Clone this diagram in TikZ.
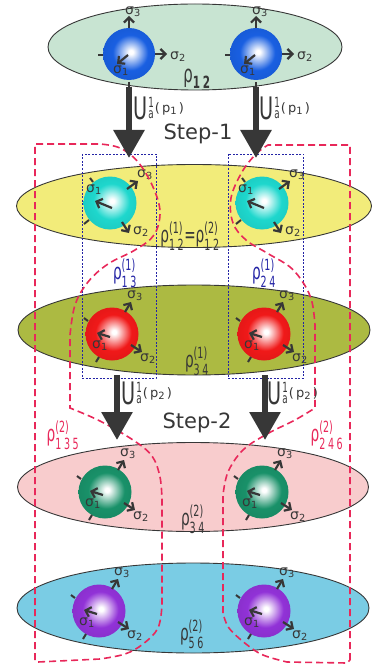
\documentclass[tikz,border=0pt]{standalone}
\usepackage{amsmath}
\usepackage{fontspec}
\setmainfont{DejaVu Sans}
\newfontfamily\narrowfont{DejaVu Sans}[FakeStretch=0.62]
\usetikzlibrary{shapes.geometric,arrows.meta}
\definecolor{inkgray}{RGB}{55,55,55}
\definecolor{mint}{RGB}{200,228,210}
\definecolor{lemon}{RGB}{242,236,122}
\definecolor{olivegreen}{RGB}{172,186,66}
\definecolor{rosepink}{RGB}{248,204,205}
\definecolor{skyblue}{RGB}{122,204,228}
\definecolor{crimson}{RGB}{232,40,90}
\definecolor{navy}{RGB}{35,35,165}
\definecolor{qblue}{RGB}{25,95,225}
\definecolor{qcyan}{RGB}{30,215,205}
\definecolor{qred}{RGB}{240,25,25}
\definecolor{qteal}{RGB}{25,145,105}
\definecolor{qviolet}{RGB}{145,50,215}
\colorlet{qcol}{qblue}
\pgfdeclareradialshading[qcol]{qball}{\pgfpoint{2bp}{2bp}}{color(0bp)=(white); color(2bp)=(white); color(17bp)=(qcol); color(32bp)=(qcol!92!black); color(50bp)=(qcol!80!black)}
\newcommand\sg[1]{σ\textsubscript{#1}}
\newcommand\rh[2]{$\text{ρ}^{\text{#2}}_{\text{#1}}$}
\newcommand\Ulab[1]{{\fontsize{31}{31}\selectfont U}\hspace{1pt}\raisebox{1pt}{\fontsize{14}{14}\selectfont\shortstack[l]{1\\a}}\hspace{1pt}\raisebox{7pt}{\normalfont\fontsize{13}{13}\selectfont(\,p{\fontsize{10}{10}\selectfont\raisebox{-2pt}{#1}}\,)}}
\tikzset{
  layer/.style={ellipse, draw=inkgray, line width=0.9pt, inner sep=0pt},
  qubit/.style={circle, minimum size=53pt, inner sep=0pt, shading=qball},
  spin/.style={draw=inkgray, line width=2.2pt, -{Straight Barb[length=5pt,width=10pt]}},
  tick/.style={draw=inkgray, line width=2pt},
  siglab/.style={text=inkgray, font=\fontsize{14}{14}\selectfont, inner sep=0pt},
  rholab/.style={text=inkgray, font=\narrowfont\fontsize{22}{22}\selectfont, inner sep=0pt},
  ulab/.style={text=inkgray, font=\narrowfont, inner sep=0pt, anchor=west},
  steplab/.style={text=inkgray, font=\fontsize{21}{21}\selectfont, inner sep=0pt},
  bigarrow/.style={draw=inkgray, line width=6pt, -{Triangle[length=28pt,width=30pt]}},
  pairbox/.style={draw=navy, line width=0.9pt, dash pattern=on 2pt off 1.5pt},
  region/.style={draw=crimson, line width=1.6pt, dash pattern=on 7pt off 4pt}
}
\begin{document}
\begin{tikzpicture}[x=1pt,y=-1pt]
\useasboundingbox (0,0) rectangle (375,671);
% layers
\node[layer, fill=mint, minimum width=294pt, minimum height=86pt] (e12) at (195,47) {};
\node[layer, fill=lemon, minimum width=355pt, minimum height=83pt] (y12) at (194,206) {};
\node[layer, fill=olivegreen, minimum width=352pt, minimum height=90pt] (o34) at (194,330) {};
\node[layer, fill=rosepink, minimum width=351pt, minimum height=89pt] (p34) at (193,487) {};
\node[layer, fill=skyblue, minimum width=352pt, minimum height=90pt] (b56) at (193,608) {};
% top qubits
\foreach \q/\px in {a1/129, a2/256} {
  \colorlet{qcol}{qblue}
  \node[qubit, minimum size=52pt] (\q) at (\px,54) {};
  \draw[spin] (\q) ++(0,-26) -- ++(0,-12);
  \draw[spin] (\q) ++(26,0) -- ++(12,0);
  \draw[spin] (\q) ++(-1,1) -- ++(-11,9);
  \draw[tick] (\q) ++(-31,1) -- ++(5,0);
  \draw[tick] (\q) ++(0,28) -- ++(0,6);
  \node[siglab] at ([shift={(4,-42)}]\q) {\sg{3}};
  \node[siglab] at ([shift={(49,3)}]\q) {\sg{2}};
  \node[siglab] at ([shift={(-8,17)}]\q) {\sg{1}};
}
% step-1 qubits
\foreach \q/\px in {c1/110, c2/262} {
  \colorlet{qcol}{qcyan}
  \node[qubit] (\q) at (\px,203) {};
  \draw[spin] (\q) ++(17,-14) -- ++(11,-8);
  \draw[spin] (\q) ++(12,19) -- ++(7,11);
  \draw[spin] (\q) ++(2,5) -- ++(-17,-7);
  \draw[tick] (\q) ++(-21,17) -- ++(-5,4);
  \draw[tick] (\q) ++(-17,-21) -- ++(-3,-4);
  \node[siglab] at ([shift={(35,-28)}]\q) {\sg{3}};
  \node[siglab] at ([shift={(31,29)}]\q) {\sg{2}};
  \node[siglab] at ([shift={(-16,-13)}]\q) {\sg{1}};
}
% other qubits
\foreach \q/\px/\py/\col in {r3/112/334/qred, r4/264/334/qred, g3/105/492/qteal, g4/262/492/qteal, v5/99/611/qviolet, v6/264/611/qviolet} {
  \colorlet{qcol}{\col}
  \node[qubit] (\q) at (\px,\py) {};
  \draw[spin] (\q) ++(13,-22) -- ++(6,-10);
  \draw[spin] (\q) ++(19,11) -- ++(11,7);
  \draw[spin] (\q) ++(-2,3) -- ++(-13,-4);
  \draw[tick] (\q) ++(-13,23) -- ++(-3,5);
  \draw[tick] (\q) ++(-24,-13) -- ++(-4,-3);
  \node[siglab] at ([shift={(23,-38)}]\q) {\sg{3}};
  \node[siglab] at ([shift={(36,25)}]\q) {\sg{2}};
  \node[siglab] at ([shift={(-12,12)}]\q) {\sg{1}};
}
% pair boxes
\draw[pairbox] (82,154) rectangle (156,378);
\draw[pairbox] (228,154) rectangle (303,378);
% regions
\draw[region] (35,660) -- (35,144) -- (100,144) -- plot[smooth, tension=0.6] coordinates {(100,144) (120,148) (138,162) (153,187) (160,212) (154,235) (135,250) (108,264) (88,282) (75,305) (70,335)} -- (70,408) -- plot[smooth, tension=0.6] coordinates {(70,408) (100,421) (133,440) (152,456) (160,477) (162,500)} -- (162,605) -- plot[smooth, tension=0.6] coordinates {(162,605) (158,628) (143,644) (125,654) (100,659)} -- (38,662) -- cycle;
\draw[region] (350,660) -- (350,145) -- (268,145) -- plot[smooth, tension=0.6] coordinates {(268,145) (256,154) (242,172) (231,198) (233,223) (246,240) (267,253) (290,267) (304,284) (312,302) (315,325)} -- (315,408) -- plot[smooth, tension=0.6] coordinates {(315,408) (295,420) (267,434) (243,450) (228,472) (223,495)} -- (223,613) -- plot[smooth, tension=0.6] coordinates {(223,613) (229,628) (246,644) (263,655) (287,662)} -- (347,663) -- cycle;
% steps
\coordinate (s1a) at (129,158);
\coordinate (s1b) at (256,158);
\coordinate (s2a) at (117,440);
\coordinate (s2b) at (265,440);
\draw[bigarrow] (a1 |- 0,87) -- (s1a);
\draw[bigarrow] (a2 |- 0,87) -- (s1b);
\draw[bigarrow] (s2a |- 0,375) -- (s2a);
\draw[bigarrow] (s2b |- 0,375) -- (s2b);
\node[ulab] (u1a) at (133,108) {\Ulab{1}};
\node[ulab] (u1b) at (259,108) {\Ulab{1}};
\node[ulab] (u2a) at (121,393) {\Ulab{2}};
\node[ulab] (u2b) at (267,393) {\Ulab{2}};
\node[steplab] (st1) at (198,134) {Step-1};
\node[steplab] (st2) at (197,423) {Step-2};
% density labels
\node[rholab, font=\narrowfont\fontsize{24}{24}\selectfont] at (197,79) {$\text{ρ}_{\text{\textbf{1\,2}}}$};
\node[rholab] at (190,236) {\rh{1\,2}{(1)}=\rh{1\,2}{(2)}};
\node[rholab, text=navy] at (125,273) {\rh{1\,3}{(1)}};
\node[rholab, text=navy] at (264,273) {\rh{2\,4}{(1)}};
\node[rholab] at (197,361) {\rh{3\,4}{(1)}};
\node[rholab, text=crimson] at (63,435) {\rh{1\,3\,5}{(2)}};
\node[rholab, text=crimson] at (327,435) {\rh{2\,4\,6}{(2)}};
\node[rholab] at (193,519) {\rh{3\,4}{(2)}};
\node[rholab] at (192,634) {\rh{5\,6}{(2)}};
\end{tikzpicture}
\end{document}
